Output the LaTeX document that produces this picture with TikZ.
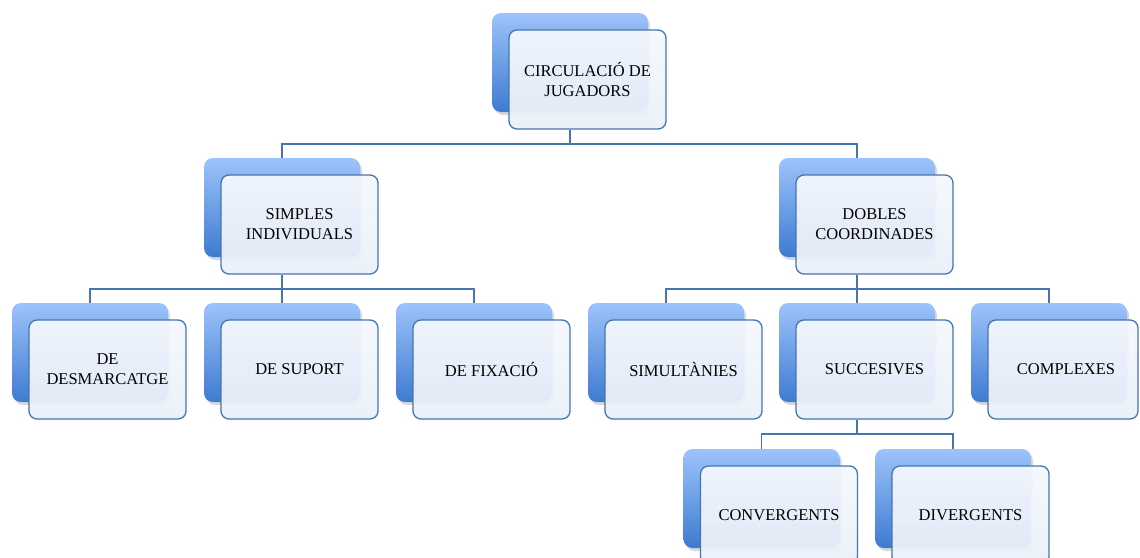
\documentclass[tikz,border=0pt]{standalone}
\usepackage{fontspec}
\setmainfont{Liberation Serif}
\usetikzlibrary{shadows,backgrounds}
\definecolor{lineblue}{HTML}{4675B0}
\definecolor{backtop}{HTML}{9DC3FB}
\definecolor{backbot}{HTML}{3D7BD0}
\definecolor{fronttop}{HTML}{F5F8FE}
\definecolor{frontbot}{HTML}{EAF0F9}
\begin{document}
\begin{tikzpicture}[x=1pt,y=-1pt,
  backbox/.style={rectangle, rounded corners=9pt, minimum width=156pt, minimum height=99pt,
    inner sep=0pt, top color=backtop, bottom color=backbot, draw=none,
    drop shadow={shadow xshift=2pt, shadow yshift=-3pt, opacity=0.3}},
  frontbox/.style={rectangle, rounded corners=8pt, minimum width=157pt, minimum height=99pt,
    draw=lineblue, line width=1.3pt, top color=fronttop, bottom color=frontbot,
    fill opacity=0.94, draw opacity=1, text opacity=1, align=center,
    font=\fontsize{16.5}{20}\selectfont, inner sep=2pt},
  conn/.style={draw=lineblue, line width=1.5pt}]
\useasboundingbox (0,0) rectangle (1140,557);

% level 0
\node[backbox] (topb) at (570,62.5) {};
\node[frontbox] (topf) at (587.5,79.5) {CIRCULACIÓ DE\\JUGADORS};
% level 1
\node[backbox] (simb) at (282,207.5) {};
\node[frontbox] (simf) at (299.5,224.5) {SIMPLES\\INDIVIDUALS};
\node[backbox] (dobb) at (857,207.5) {};
\node[frontbox] (dobf) at (874.5,224.5) {DOBLES\\COORDINADES};
% level 2
\node[backbox] (d1b) at (90,352.5) {};
\node[frontbox] (d1f) at (107.5,369.5) {DE\\DESMARCATGE};
\node[backbox] (d2b) at (282,352.5) {};
\node[frontbox] (d2f) at (299.5,369.5) {DE SUPORT};
\node[backbox] (d3b) at (474,352.5) {};
\node[frontbox] (d3f) at (491.5,369.5) {DE FIXACIÓ};
\node[backbox] (s1b) at (666,352.5) {};
\node[frontbox] (s1f) at (683.5,369.5) {SIMULTÀNIES};
\node[backbox] (s2b) at (857,352.5) {};
\node[frontbox] (s2f) at (874.5,369.5) {SUCCESIVES};
\node[backbox] (s3b) at (1049,352.5) {};
\node[frontbox, minimum width=150pt] (s3f) at (1063,369.5) {\hspace*{6pt}COMPLEXES};
% level 3
\node[backbox] (c1b) at (761.5,498.5) {};
\node[frontbox] (c1f) at (779,515.5) {CONVERGENTS};
\node[backbox] (c2b) at (953,498.5) {};
\node[frontbox] (c2f) at (970.5,515.5) {DIVERGENTS};

\begin{scope}[on background layer]
  \coordinate (j1) at (570,144);
  \coordinate (j2) at (282,289);
  \coordinate (j3) at (857,289);
  \coordinate (j4) at (857,434);
  \draw[conn] (topb |- topf.south) -- (j1);
  \draw[conn] (simb.north) |- (j1) -| (dobb.north);
  \draw[conn] (simb |- simf.south) -- (j2);
  \draw[conn] (d1b.north) |- (j2) -| (d3b.north);
  \draw[conn] (d2b.north) -- (j2);
  \draw[conn] (dobb |- dobf.south) -- (j3);
  \draw[conn] (s1b.north) |- (j3) -| (s3b.north);
  \draw[conn] (s2b.north) -- (j3);
  \draw[conn] (s2b |- s2f.south) -- (j4);
  \draw[conn] (c1b.north) |- (j4) -| (c2b.north);
\end{scope}
\end{tikzpicture}
\end{document}
